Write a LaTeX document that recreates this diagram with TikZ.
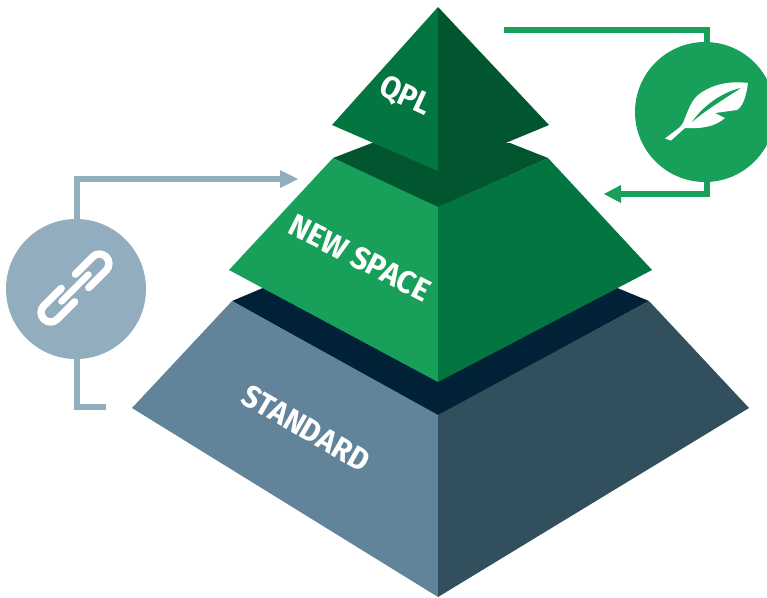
\documentclass[tikz,border=0pt]{standalone}
\usepackage{fontspec}
\setmainfont{Fira Sans}
\definecolor{gA}{HTML}{18A05B}
\definecolor{gB}{HTML}{027540}
\definecolor{gC}{HTML}{02562F}
\definecolor{sA}{HTML}{61849A}
\definecolor{sB}{HTML}{324F5E}
\definecolor{sC}{HTML}{012236}
\definecolor{lk}{HTML}{92ADBE}
\definecolor{lg}{HTML}{18A05B}
\tikzset{
 x=0.75pt,y=-0.75pt,
 lbl/.style={text=white,font=\bfseries\fontsize{23.5}{24}\selectfont,inner sep=0pt},
 badge/.style={circle,minimum size=105pt,inner sep=0pt,draw=none},
 elbowg/.style={draw=lg,line width=4.5pt},
 elbowb/.style={draw=lk,line width=4.5pt},
}
\begin{document}
\begin{tikzpicture}
\useasboundingbox (0,0) rectangle (767,597);
\clip (0,0) rectangle (767,597);
% standard
\fill[sC] (232,301) -- (270,285) -- (610,285) -- (649,301) -- (438,416) -- cycle;
\fill[sA] (232,301) -- (132,408) -- (438,597) -- (438,415) -- cycle;
\fill[sB] (649,301) -- (749,408) -- (438,597) -- (438,415) -- cycle;
% new space
\fill[gC] (333,158) -- (372,143) -- (510,143) -- (548,158) -- (438,208) -- cycle;
\fill[gA] (333,158) -- (229,270) -- (438,382) -- (438,207) -- cycle;
\fill[gB] (548,158) -- (652,270) -- (438,382) -- (438,207) -- cycle;
% qpl
\fill[gB] (438,7) -- (332,125) -- (438,171) -- cycle;
\fill[gC] (438,7) -- (549,125) -- (438,171) -- cycle;
\node[lbl,rotate=-25] (qpl) at (405,97) {\scalebox{0.94}[1]{QPL}};
\node[lbl,rotate=-27] (ns) at (360,258) {\scalebox{0.97}[1]{NEW SPACE}};
\node[lbl,rotate=-30] (st) at (306,428) {\scalebox{0.94}[1]{STANDARD}};
% badges
\node[badge,fill=lg] (leaf) at (705,112) {};
\node[badge,fill=lk] (chain) at (76,289) {};
\coordinate (gs) at (504,30);
\coordinate (ge) at (604,194);
\coordinate (bs) at (298,179);
\coordinate (be) at (106,407);
\draw[elbowg] (gs) -- (707,30) -- (707,45);
\draw[elbowg] (707,179) -- (707,194) -- (620,194);
\fill[lg] (ge) -- (621,185) -- (621,203) -- cycle;
\draw[elbowb] (76.5,222) -- (76.5,179) -- (282,179);
\fill[lk] (bs) -- (280,170) -- (280,188) -- cycle;
\draw[elbowb] (76.5,356) -- (76.5,407) -- (be);
% feather
\fill[white] (748,83) .. controls (725,80) and (708,87) .. (698,95)
 .. controls (690,102) and (687,114) .. (683,123) -- (680,127) -- (665,138.5) -- (671,140.5) -- (685,128)
 .. controls (700,129) and (715,127) .. (725,118) -- (715,113) -- (737,110)
 .. controls (743,106) and (746,97) .. (748,83) -- cycle;
\fill[lg] (741,88) .. controls (722,92) and (703,106) .. (692,122)
 .. controls (706,110) and (724,99) .. (741,88) -- cycle;
% chain
\begin{scope}[shift={(75,288)},rotate=45]
 \draw[white,line width=5.5pt,rounded corners=7pt,line cap=round] (10,-9.5) -- (44,-9.5) -- (44,9.5) -- (10,9.5);
 \draw[white,line width=5.5pt,rounded corners=7pt,line cap=round] (-10,9.5) -- (-44,9.5) -- (-44,-9.5) -- (-10,-9.5);
 \draw[white,line width=5pt,line cap=round] (-19,0) -- (19,0);
\end{scope}
\end{tikzpicture}
\end{document}
